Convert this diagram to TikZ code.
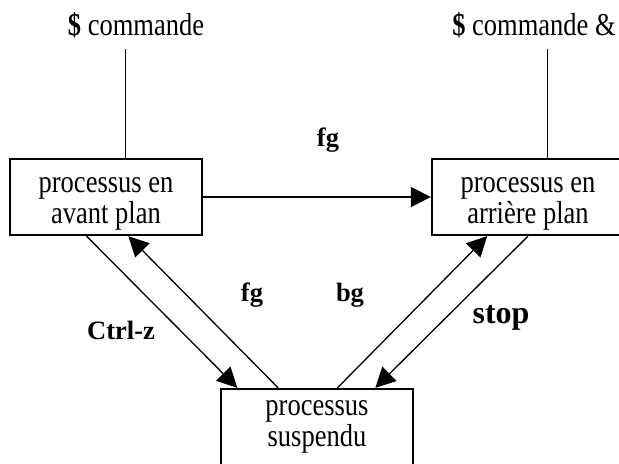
\documentclass[tikz,border=0pt]{standalone}
\usepackage{fontspec}
\setmainfont{Liberation Serif}
\usepackage{tikz}
\usetikzlibrary{arrows.meta,positioning,calc}
\newcommand{\hi}[1]{\scalebox{1}[1.2]{#1}}
\lineskiplimit=-20pt

\begin{document}
\begin{tikzpicture}[x=0.5pt,y=-0.5pt,
  proc/.style={rectangle,draw,line width=1.15pt,inner sep=0pt,minimum width=96pt,minimum height=38pt},
  txt/.style={align=center,inner sep=0pt,font=\fontsize{13.25}{15.5}\selectfont},
  ar/.style={-{Triangle[length=10pt,width=10pt]},line width=0.65pt},
  lbl/.style={font=\fontsize{13.25}{14.5}\selectfont\bfseries}]
  \useasboundingbox (0,0) rectangle (619,463);
  \clip (0,0) rectangle (619,463);
  % the three process states
  \node[proc] (fore) at (106,197) {};
  \node[proc] (back) at (528,197) {};
  \node[proc,minimum height=43pt] (susp) at (317,432) {};
  \node[txt] (fore-txt) at (106,204) {\hi{processus en}\\\hi{avant plan}};
  \node[txt] (back-txt) at (528,204) {\hi{processus en}\\\hi{arrière plan}};
  \node[txt] (susp-txt) at (317,427) {\hi{processus}\\\hi{suspendu}};
  % shell commands on top
  \node[txt,anchor=base] (cmd)   at (136,35) {\hi{\textbf{\$} commande}};
  \node[txt,anchor=base] (cmdbg) at (534,35) {\hi{\textbf{\$} commande \&}};
  \coordinate (fore-in) at ($(fore.north west)!0.6!(fore.north east)+(0,-109)$);
  \coordinate (back-in) at ($(back.north west)!0.6!(back.north east)+(0,-109)$);
  \draw[line width=0.65pt] (fore-in) -- (fore-in |- fore.north);
  \draw[line width=0.65pt] (back-in) -- (back-in |- back.north);
  % transitions
  \draw[ar] (fore.east) -- (back.west);
  \draw[ar] ($(fore.south west)!0.40!(fore.south east)$) -- ($(susp.north west)!0.09!(susp.north east)$);
  \draw[ar] ($(susp.north west)!0.30!(susp.north east)$) -- ($(fore.south west)!0.615!(fore.south east)$);
  \draw[ar] ($(susp.north west)!0.605!(susp.north east)$) -- ($(back.south west)!0.29!(back.south east)$);
  \draw[ar] (back.south) -- ($(susp.north west)!0.80!(susp.north east)$);
  \node[lbl] (l-fg)   at (328,140) {fg};
  \node[lbl] (l-fg2)  at (252,295) {fg};
  \node[lbl] (l-bg)   at (350,295) {bg};
  \node[lbl] (l-ctrl) at (121,330) {Ctrl-z};
  \node[lbl,font=\fontsize{16}{18}\selectfont\bfseries] (l-stop) at (501,318) {stop};
\end{tikzpicture}
\end{document}
